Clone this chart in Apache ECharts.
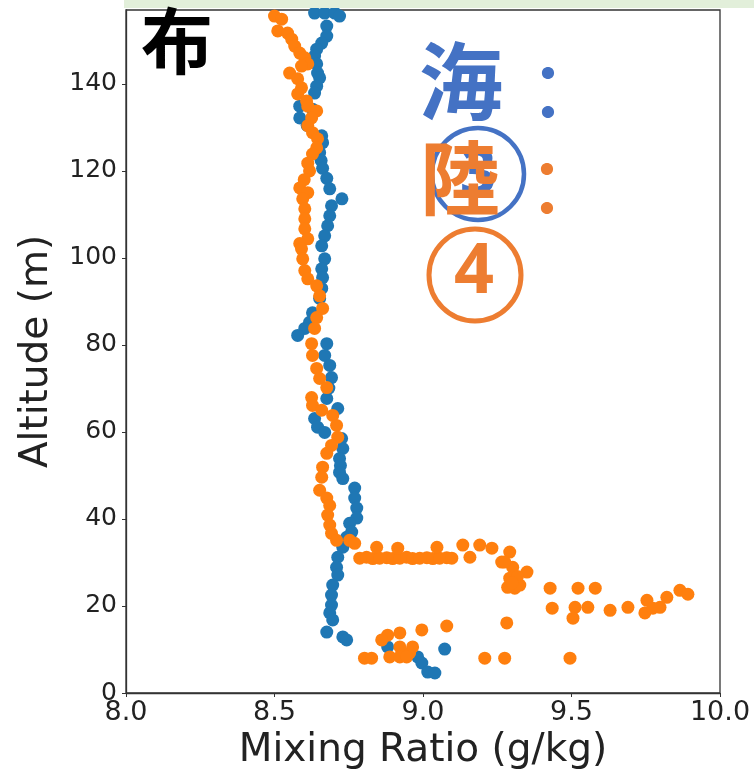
<!DOCTYPE html>
<html>
<head>
<meta charset="utf-8">
<script src="https://cdn.jsdelivr.net/npm/echarts@6/dist/echarts.min.js"></script>
<style>
html,body{margin:0;padding:0;background:#fff;}
#chart{width:754px;height:776px;}
</style>
</head>
<body>
<div id="chart"></div>
<script>
// ---- data (Mixing Ratio g/kg, Altitude m) ----
var xTicks = [8.0, 8.5, 9.0, 9.5, 10.0];
var yTicks = [0, 20, 40, 60, 80, 100, 120, 140];

var seaMix = [8.635,8.669,8.703,8.719,8.676,8.676,8.659,8.642,8.635,8.642,8.645,8.652,8.642,8.635,8.585,8.628,8.585,8.610,8.659,8.662,8.652,8.657,8.662,8.676,8.686,8.727,8.692,8.686,8.679,8.669,8.659,8.669,8.659,8.662,8.659,8.652,8.628,8.618,8.602,8.578,8.676,8.669,8.686,8.692,8.683,8.676,8.713,8.635,8.645,8.669,8.726,8.730,8.719,8.722,8.719,8.730,8.770,8.770,8.777,8.777,8.753,8.760,8.743,8.730,8.713,8.709,8.713,8.696,8.692,8.692,8.686,8.696,8.676,8.730,8.743,8.881,8.982,8.996,9.016,9.040,9.073];
var seaAlt = [156.3,156.3,156.3,155.6,153.3,151.0,149.4,148.0,146.4,144.6,142.5,141.4,139.5,137.9,134.9,134.2,132.2,130.5,128.1,126.5,124.2,122.4,120.6,118.3,115.9,113.6,112.0,109.7,107.4,105.1,102.8,99.8,97.5,95.5,93.0,90.7,87.4,85.2,83.8,82.2,80.3,77.6,75.3,72.5,70.1,67.7,65.4,63.1,61.1,59.9,58.5,56.2,53.9,52.3,50.7,49.3,47.1,44.8,42.5,40.2,39.0,37.0,35.8,33.5,31.2,28.9,27.1,24.8,22.5,20.2,18.4,16.8,14.0,12.9,12.2,10.6,8.3,6.9,4.8,4.6,10.1];

var landMix = [8.500,8.524,8.511,8.544,8.558,8.568,8.585,8.602,8.612,8.591,8.551,8.578,8.591,8.578,8.608,8.612,8.642,8.625,8.612,8.628,8.645,8.642,8.628,8.612,8.618,8.600,8.585,8.612,8.595,8.602,8.602,8.602,8.612,8.585,8.591,8.595,8.602,8.612,8.642,8.652,8.662,8.642,8.635,8.625,8.628,8.642,8.652,8.676,8.625,8.628,8.659,8.696,8.709,8.713,8.692,8.676,8.662,8.659,8.652,8.676,8.686,8.679,8.686,8.692,8.709,8.753,8.770,
  8.787,8.810,8.831,8.854,8.878,8.898,8.922,8.945,8.965,8.989,9.013,9.033,9.056,9.080,9.097,
  8.844,8.915,9.047,9.134,9.158,9.191,9.232,9.292,9.265,9.302,9.275,9.350,9.292,9.326,9.285,9.309,9.318,9.300,
  9.428,9.522,9.580,9.435,9.512,9.555,9.505,9.630,9.690,9.754,9.747,9.774,9.798,9.821,9.865,9.892,
  9.282,9.080,8.996,8.881,8.922,8.861,8.922,8.965,8.955,8.803,8.827,8.888,8.922,8.945,9.208,9.275,9.495];
var landAlt = [155.6,154.9,152.2,151.7,150.3,148.7,147.1,146.0,144.6,144.1,142.5,141.2,139.1,137.7,136.1,134.9,133.8,132.2,130.4,128.8,127.4,125.3,123.9,121.8,120.0,118.0,116.1,115.0,113.6,111.3,109.0,106.7,104.4,103.3,102.1,99.8,97.1,95.2,93.6,91.3,88.4,86.3,83.8,80.3,77.6,74.6,72.3,70.2,67.9,66.1,65.0,63.8,61.5,58.8,56.9,55.1,51.9,49.6,46.6,44.8,43.1,40.9,38.6,36.7,35.1,35.1,34.4,
  31.0,31.2,30.9,31.0,31.1,30.9,31.0,31.2,30.9,31.0,31.1,30.9,31.0,31.1,31.0,
  33.5,33.3,33.5,34.0,31.2,34.0,33.3,32.4,30.1,28.9,30.1,27.8,26.4,24.8,24.3,24.1,26.8,25.3,
  24.1,24.1,24.1,19.5,19.7,19.7,17.2,19.0,19.7,21.3,18.4,19.5,19.7,22.0,23.6,22.7,
  16.1,15.4,14.5,13.3,13.8,12.2,10.6,10.6,9.2,8.0,8.0,8.3,8.3,8.3,8.0,8.0,8.0];

function zip(a, b) { return a.map(function (v, i) { return [v, b[i]]; }); }

var chart = echarts.init(document.getElementById('chart'));
var tickFont = 'DejaVu Sans';
chart.setOption({
  animation: false,
  backgroundColor: '#ffffff',
  grid: { left: 126, right: 34, top: 10, bottom: 83, show: true, borderColor: '#333', borderWidth: 1.3, backgroundColor: 'transparent' },
  xAxis: {
    type: 'value', min: 8, max: 10, interval: 0.5,
    name: 'Mixing Ratio (g/kg)', nameLocation: 'middle', nameGap: 36,
    nameTextStyle: { fontFamily: tickFont, fontSize: 39, color: '#222' },
    axisLine: { show: true, onZero: false, lineStyle: { color: '#333', width: 1.3 } },
    axisTick: { show: true, length: 4, lineStyle: { color: '#333' } },
    axisLabel: { fontFamily: tickFont, fontSize: 27, color: '#222', margin: 6,
      formatter: function (v) { return v.toFixed(1); } },
    splitLine: { show: false }
  },
  yAxis: {
    type: 'value', min: 0, max: 157,
    name: 'Altitude (m)', nameLocation: 'middle', nameGap: 70,
    nameTextStyle: { fontFamily: tickFont, fontSize: 39, color: '#222' },
    axisLine: { show: true, onZero: false, lineStyle: { color: '#333', width: 1.3 } },
    axisTick: { show: true, length: 4, lineStyle: { color: '#333' }, customValues: yTicks },
    axisLabel: { fontFamily: tickFont, fontSize: 25, color: '#222', margin: 9, customValues: yTicks },
    splitLine: { show: false }
  },
  series: [
    { name: '海', type: 'scatter', data: zip(seaMix, seaAlt), symbolSize: 13,
      itemStyle: { color: '#1f77b4', opacity: 1 }, z: 2 },
    { name: '陸', type: 'scatter', data: zip(landMix, landAlt), symbolSize: 13,
      itemStyle: { color: '#ff7f0e', opacity: 1 }, z: 3 }
  ],
  graphic: [
    { type: 'rect', shape: { x: 124, y: 0, width: 630, height: 8 }, style: { fill: '#E2EFDA' }, z: 10 },
    { type: 'text', z: 20, style: { text: '布', x: 177, y: 41, align: 'center', verticalAlign: 'middle', fill: '#000', font: 'bold 72px "Noto Sans CJK JP"' } },
    { type: 'text', z: 20, style: { text: '海', x: 461, y: 81, align: 'center', verticalAlign: 'middle', fill: '#4472C4', font: 'bold 84px "Noto Sans CJK JP"' } },
    { type: 'text', z: 20, style: { text: '：', x: 548, y: 92, align: 'center', verticalAlign: 'middle', fill: '#4472C4', font: 'normal 80px "Noto Sans CJK JP"' } },
    { type: 'text', z: 19, style: { text: '3', x: 478, y: 176, align: 'center', verticalAlign: 'middle', fill: '#4472C4', font: 'bold 64px "Noto Sans"' } },
    { type: 'circle', z: 19, shape: { cx: 478, cy: 174, r: 46 }, style: { fill: 'none', stroke: '#4472C4', lineWidth: 4.5 } },
    { type: 'text', z: 21, style: { text: '陸', x: 460, y: 178, align: 'center', verticalAlign: 'middle', fill: '#ED7D31', font: 'bold 80px "Noto Sans CJK JP"' } },
    { type: 'text', z: 20, style: { text: '：', x: 547, y: 188, align: 'center', verticalAlign: 'middle', fill: '#ED7D31', font: 'normal 80px "Noto Sans CJK JP"' } },
    { type: 'circle', z: 20, shape: { cx: 475, cy: 275, r: 46 }, style: { fill: 'none', stroke: '#ED7D31', lineWidth: 5 } },
    { type: 'text', z: 20, style: { text: '4', x: 474, y: 273, align: 'center', verticalAlign: 'middle', fill: '#ED7D31', font: 'bold 70px "Noto Sans"' } }
  ]
});
</script>
</body>
</html>
